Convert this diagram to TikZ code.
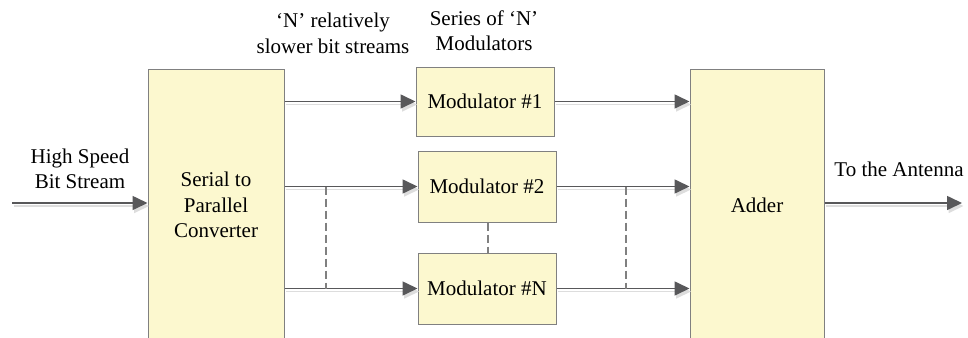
\documentclass[tikz,border=0pt]{standalone}
\usepackage{fontspec}
\setmainfont{Liberation Serif}
\usetikzlibrary{arrows.meta,calc}
\definecolor{boxfill}{HTML}{FCF8CF}
\definecolor{boxline}{HTML}{808080}
\definecolor{arrowcol}{HTML}{58585A}
\definecolor{shadowcol}{HTML}{DDDDDD}
\tikzset{
  block/.style={draw=boxline, fill=boxfill, line width=1pt, align=center,
    inner sep=0pt, font=\fontsize{21}{25.5}\selectfont},
  caption/.style={align=center, inner sep=0pt, font=\fontsize{21}{25.5}\selectfont},
  flow/.style={draw=arrowcol, line width=1.6pt,
    -{Triangle[length=15pt,width=14pt]},
    preaction={draw=shadowcol, line width=1.8pt, transform canvas={shift={(1.5pt,-3pt)}},
      -{Triangle[length=15pt,width=14pt,color=shadowcol]}}},
  dashline/.style={draw=boxline, line width=1.3pt, dash pattern=on 8pt off 4pt},
}
\begin{document}
\begin{tikzpicture}[x=1pt,y=-1pt]
\useasboundingbox (0,0) rectangle (968,337);
\clip (0,0) rectangle (968,337);

% main blocks
\node[block, minimum width=136pt, minimum height=272pt] (sp) at (216,205) {Serial to\\Parallel\\Converter};
\node[block, minimum width=134pt, minimum height=272pt] (adder) at (757,205) {Adder};
\node[block, minimum width=138pt, minimum height=69pt] (m1) at (485,101.5) {Modulator \#1};
\node[block, minimum width=138pt, minimum height=71pt] (m2) at (487,186.5) {Modulator \#2};
\node[block, minimum width=138pt, minimum height=71pt] (mN) at (487,288.5) {Modulator \#N};

% text labels
\node[caption] (lin) at (80,169) {High Speed\\Bit Stream};
\node[caption] (lstreams) at (333,33.5) {‘N’ relatively\\slower bit streams};
\node[caption] (lmods) at (484,30.5) {Series of ‘N’\\Modulators};
\node[caption] (lout) at (899,169) {To the Antenna};

% input and output
\coordinate (in) at (12,203);
\coordinate (out) at (962,203);
\draw[flow] (in) -- (sp.west |- in);
\draw[flow] (adder.east |- out) -- (out);

% converter to modulators
\draw[flow] (sp.east |- m1.west) -- (m1.west);
\draw[flow] (sp.east |- m2.west) -- (m2.west);
\draw[flow] (sp.east |- mN.west) -- (mN.west);

% modulators to adder
\draw[flow] (m1.east) -- (adder.west |- m1.east);
\draw[flow] (m2.east) -- (adder.west |- m2.east);
\draw[flow] (mN.east) -- (adder.west |- mN.east);

% dashed continuation marks
\coordinate (la) at (326,0);
\coordinate (ra) at (626,0);
\coordinate (ma) at (488,0);
\draw[dashline] (la |- m2.west) -- (la |- mN.west);
\draw[dashline] (ra |- m2.east) -- (ra |- mN.east);
\draw[dashline] (ma |- m2.south) -- (ma |- mN.north);
\end{tikzpicture}
\end{document}
